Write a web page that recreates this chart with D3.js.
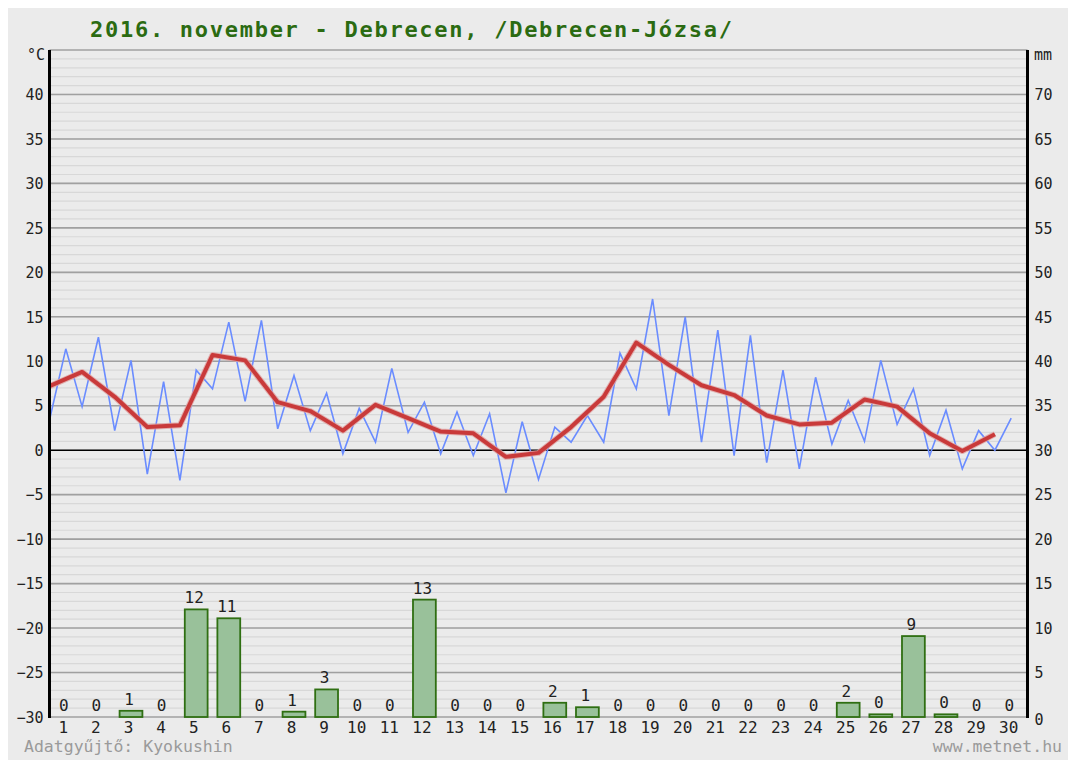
<!DOCTYPE html>
<html>
<head>
<meta charset="utf-8">
<script src="https://cdn.jsdelivr.net/npm/d3@7"></script>
<style>
  html, body { margin: 0; padding: 0; background: #ffffff; }
  svg { display: block; }
  text { font-family: "DejaVu Sans Mono", monospace; }
</style>
</head>
<body>
<svg id="chart" width="1068" height="760"></svg>
<script>
// ---------- DATA ----------
const titleText = "2016. november - Debrecen, /Debrecen-Józsa/";
const days = d3.range(1, 31);
// daily precipitation (mm)
const precip = [0, 0, 0.7, 0, 12.1, 11.1, 0, 0.6, 3.1, 0,
                0, 13.2, 0, 0, 0, 1.6, 1.1, 0, 0, 0,
                0, 0, 0, 0, 1.6, 0.3, 9.1, 0.3, 0, 0];
// daily mean temperature (°C)
const tMean = [7.2, 8.8, 6.0, 2.6, 2.8, 10.7, 10.1, 5.4, 4.4, 2.2,
               5.1, 3.6, 2.1, 1.9, -0.75, -0.3, 2.6, 6.0, 12.1, 9.6,
               7.3, 6.2, 3.9, 2.9, 3.1, 5.7, 4.9, 1.9, -0.1, 1.8];
// alternating min / max temperatures, two per day (°C)
const tMinMax = [3.4, 11.4, 4.9, 12.7, 2.2, 10.1, -2.7, 7.7, -3.4, 9.0,
                 6.9, 14.4, 5.5, 14.6, 2.4, 8.4, 2.2, 6.4, -0.4, 4.7,
                 0.9, 9.2, 2.0, 5.4, -0.4, 4.3, -0.6, 4.1, -4.8, 3.2,
                 -3.3, 2.6, 0.9, 3.9, 0.9, 10.9, 6.9, 17.0, 3.9, 15.0,
                 0.9, 13.5, -0.6, 12.9, -1.4, 9.0, -2.1, 8.2, 0.7, 5.6,
                 1.0, 10.1, 2.9, 6.9, -0.6, 4.5, -2.1, 2.2, 0.0, 3.6];
const tempTicks = [40, 35, 30, 25, 20, 15, 10, 5, 0, -5, -10, -15, -20, -25, -30];
const mmTicks = [70, 65, 60, 55, 50, 45, 40, 35, 30, 25, 20, 15, 10, 5, 0];
const footerLeft = "Adatgyűjtő: Kyokushin";
const footerRight = "www.metnet.hu";

// ---------- LAYOUT ----------
const svg = d3.select("#chart");
const L = 49.5, R = 1027.5, T = 50, B = 717;

svg.append("rect").attr("x", 8).attr("y", 8).attr("width", 1060).attr("height", 752)
   .attr("fill", "#ebebeb");

const x = d3.scaleLinear().domain([0, 30]).range([L, R]);
const yT = d3.scaleLinear().domain([-30, 45]).range([B, T]);
const yP = d3.scaleLinear().domain([0, 75]).range([B, T]);

// minor gridlines
const g = svg.append("g");
g.selectAll("line.minor").data(d3.range(-29, 45)).join("line")
  .attr("x1", L).attr("x2", R)
  .attr("y1", d => yT(d)).attr("y2", d => yT(d))
  .attr("stroke", "#d8d8d8").attr("stroke-width", 1.2);
// major gridlines
g.selectAll("line.major").data(d3.range(-30, 46, 5)).join("line")
  .attr("x1", L).attr("x2", R)
  .attr("y1", d => yT(d)).attr("y2", d => yT(d))
  .attr("stroke", d => d === 0 ? "#000000" : "#a0a0a0")
  .attr("stroke-width", 1.6);

// bars
const bw = (x(1) - x(0)) * 0.7;
svg.append("g").selectAll("rect").data(days).join("rect")
  .attr("x", d => x(d - 0.5) - bw / 2)
  .attr("width", bw)
  .attr("y", (d, i) => yP(precip[i]))
  .attr("height", (d, i) => yP(0) - yP(precip[i]))
  .attr("fill", "#99c19a")
  .attr("stroke", "#2f6f12").attr("stroke-width", 1.8);

svg.append("g").selectAll("text").data(days).join("text")
  .attr("x", d => x(d - 0.5) - 2)
  .attr("y", (d, i) => yP(precip[i]) - 6)
  .attr("text-anchor", "middle")
  .attr("font-size", 16).attr("fill", "#222")
  .text((d, i) => Math.round(precip[i]));

// min/max line
const lineMM = d3.line().x((d, i) => x(i / 2)).y(d => yT(d));
svg.append("path").datum(tMinMax).attr("d", lineMM)
  .attr("fill", "none").attr("stroke", "#6a8cff").attr("stroke-width", 1.6)
  .attr("stroke-linejoin", "miter");

// mean line
const lineMean = d3.line().x((d, i) => x(i)).y(d => yT(d));
svg.append("path").datum(tMean).attr("d", lineMean)
  .attr("fill", "none").attr("stroke", "#e0a0a0").attr("stroke-width", 6)
  .attr("stroke-linejoin", "round").attr("opacity", 0.8);
svg.append("path").datum(tMean).attr("d", lineMean)
  .attr("fill", "none").attr("stroke", "#c93a3a").attr("stroke-width", 4)
  .attr("stroke-linejoin", "round");

// axes lines
svg.append("line").attr("x1", L).attr("x2", L).attr("y1", T).attr("y2", B + 1)
  .attr("stroke", "#000").attr("stroke-width", 3);
svg.append("line").attr("x1", R).attr("x2", R).attr("y1", T).attr("y2", B + 1)
  .attr("stroke", "#000").attr("stroke-width", 3);

// left axis labels
const leftAxis = d3.axisLeft(yT).tickValues(tempTicks).tickSize(0).tickPadding(5);
const ga = svg.append("g").attr("transform", `translate(${L - 1},0)`).call(leftAxis);
ga.select(".domain").remove();
ga.selectAll("text").attr("font-size", 15).attr("fill", "#222")
  .attr("font-family", "DejaVu Sans Mono, monospace")
  .attr("dy", "0.35em");

// right axis labels
const rightAxis = d3.axisRight(yP).tickValues(mmTicks).tickSize(0).tickPadding(7);
const gr = svg.append("g").attr("transform", `translate(${R},0)`).call(rightAxis);
gr.select(".domain").remove();
gr.selectAll("text").attr("font-size", 15).attr("fill", "#222")
  .attr("font-family", "DejaVu Sans Mono, monospace")
  .attr("dy", d => d === 0 ? "0.5em" : "0.35em");

// bottom day labels
const bottomAxis = d3.axisBottom(x).tickValues(days.map(d => d - 0.5))
  .tickFormat(d => String(d + 0.5)).tickSize(0).tickPadding(5);
const gb = svg.append("g").attr("transform", `translate(-3,${B})`).call(bottomAxis);
gb.select(".domain").remove();
gb.selectAll("text").attr("font-size", 16).attr("fill", "#222")
  .attr("font-family", "DejaVu Sans Mono, monospace");

// unit labels
svg.append("text").attr("x", 45).attr("y", 60).attr("text-anchor", "end")
  .attr("font-size", 15).attr("fill", "#222").text("°C");
svg.append("text").attr("x", 1034).attr("y", 60)
  .attr("font-size", 15).attr("fill", "#222").text("mm");

// title
svg.append("text").attr("x", 90).attr("y", 37)
  .attr("font-size", 22).attr("fill", "#2b6b12").attr("font-weight", "bold")
  .attr("textLength", 642).attr("lengthAdjust", "spacing")
  .text(titleText);

// footer
svg.append("text").attr("x", 24).attr("y", 752)
  .attr("font-size", 16.5).attr("fill", "#9a9a9a").text(footerLeft);
svg.append("text").attr("x", 1062).attr("y", 752).attr("text-anchor", "end")
  .attr("font-size", 16.5).attr("fill", "#9a9a9a").text(footerRight);
</script>
</body>
</html>
